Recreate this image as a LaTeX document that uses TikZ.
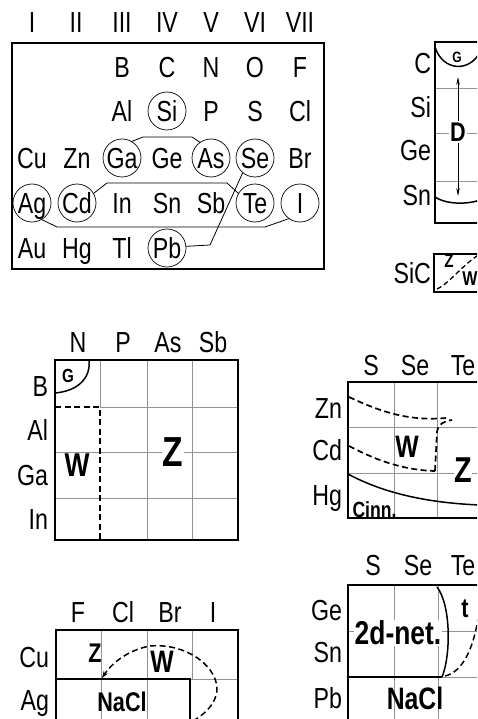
\documentclass[tikz,border=0pt]{standalone}
\usepackage{fontspec}
\setmainfont[FakeStretch=0.8]{Liberation Sans}
\usetikzlibrary{arrows.meta}
\newcommand\myfs[1]{\fontsize{#1}{#1}\selectfont}
\begin{document}
\begin{tikzpicture}[x=1pt,y=-1pt,
  el/.style={font=\myfs{29}, inner sep=0pt, outer sep=0pt, text height=21pt, text depth=0pt},
  cel/.style={el, draw, circle, minimum size=38pt, line width=0.7pt},
  lab/.style={font=\bfseries\myfs{#1}, inner sep=0.5pt, outer sep=0pt},
  boxline/.style={line width=1.6pt},
  gline/.style={gray!85, line width=0.55pt},
  thickdash/.style={line width=1.7pt, dash pattern=on 6pt off 3.5pt},
  conn/.style={line width=0.8pt},
  bound/.style={line width=1.5pt},
  arr/.style={-{Stealth[length=8pt,width=3.5pt]}},
]
\useasboundingbox (0,0) rectangle (477,719);
\clip (0,0) rectangle (477,719);

% ---------------- periodic table ----------------
\foreach \t/\x in {I/32,II/76,III/122,IV/167,V/211,VI/255,VII/300}
  \node[el] (h\t) at (\x,22) {\t};
\draw[boxline] (12,43) rectangle (324,269);
% row 1
\node[el] (B) at (122,67) {B};
\node[el] (C) at (167,67) {C};
\node[el] (N) at (211,67) {N};
\node[el] (O) at (255,67) {O};
\node[el] (F) at (300,67) {F};
% row 2
\node[el] (Al) at (122,111) {Al};
\node[cel] (Si) at (167,111) {Si};
\node[el] (P) at (211,111) {P};
\node[el] (S) at (255,111) {S};
\node[el] (Cl) at (300,111) {Cl};
% row 3
\node[el] (Cu) at (32,158) {Cu};
\node[el] (Zn) at (77,158) {Zn};
\node[cel] (Ga) at (122,158) {Ga};
\node[el] (Ge) at (167,158) {Ge};
\node[cel] (As) at (211,158) {As};
\node[cel] (Se) at (255,158) {Se};
\node[el] (Br) at (300,158) {Br};
% row 4
\node[cel] (Ag) at (32,203) {Ag};
\node[cel] (Cd) at (77,203) {Cd};
\node[el] (In) at (122,203) {In};
\node[el] (Sn) at (167,203) {Sn};
\node[el] (Sb) at (211,203) {Sb};
\node[cel] (Te) at (255,203) {Te};
\node[cel] (I) at (300,203) {I};
% row 5
\node[el] (Au) at (32,248) {Au};
\node[el] (Hg) at (77,248) {Hg};
\node[el] (Tl) at (122,248) {Tl};
\node[cel] (Pb) at (167,248) {Pb};
% connectors
\draw[conn] (Ga.60) -- (143,137) -- (192,137) -- (As.125);
\draw[conn] (Cd.30) -- (107,183) -- (227,183) -- (Te.150);
\draw[conn] (Ag.-60) -- (57,227) -- (265,227) -- (I.235);
\draw[conn] (Se.230) -- (210,245) -- (Pb.5);

% ---------------- C Si Ge Sn ----------------
\draw[gline] (435,88) -- (490,88);
\draw[gline] (435,133) -- (490,133);
\draw[gline] (435,181) -- (490,181);
\draw[boxline] (490,42) -- (435,42) -- (435,223) -- (490,223);
\node[el,anchor=east] (rC) at (431,63) {C};
\node[el,anchor=east] (rSi) at (431,107) {Si};
\node[el,anchor=east] (rGe) at (431,150) {Ge};
\node[el,anchor=east] (rSn) at (431,195) {Sn};
\draw[bound] (435,47) .. controls (443,72) and (470,72) .. (480,52);
\node[lab=15] (gG) at (457,57) {G};
\node[lab=27, fill=white, inner sep=1.5pt] (dD) at (458,132) {D};
\coordinate (dtop) at (458,77);
\coordinate (dbot) at (458,196);
\draw[conn,arr] (dD) -- (dtop);
\draw[conn,arr] (dD) -- (dbot);
\draw[bound] (435,197) .. controls (445,204) and (466,205) .. (480,200);
% SiC
\draw[line width=1.1pt] (490,254) -- (434,254) -- (434,292) -- (490,292);
\node[el,anchor=east] (SiC) at (431,273) {SiC};
\node[lab=19] (sZ) at (449,261) {Z};
\node[lab=20] (sW) at (470,279) {W};
\draw[line width=1.3pt, dash pattern=on 5pt off 3pt] (437,289) .. controls (450,283) and (462,265) .. (480,254);

% ---------------- N P As Sb / B Al Ga In ----------------
\node[el] (mN) at (78,342) {N};
\node[el] (mP) at (123,342) {P};
\node[el] (mAs) at (168,342) {As};
\node[el] (mSb) at (213,342) {Sb};
\node[el,anchor=east] (mB) at (48,386) {B};
\node[el,anchor=east] (mAl) at (48,430) {Al};
\node[el,anchor=east] (mGa) at (48,475) {Ga};
\node[el,anchor=east] (mIn) at (48,519) {In};
\draw[gline] (100,360) -- (100,407);
\draw[gline] (147,360) -- (147,540);
\draw[gline] (192,360) -- (192,540);
\draw[gline] (100,407) -- (238,407);
\draw[gline] (55,452) -- (238,452);
\draw[gline] (55,498) -- (238,498);
\draw[boxline] (55,360) rectangle (238,540);
\draw[thickdash] (55,407) -- (100,407) -- (100,540);
\draw[bound] (55,393) .. controls (78,391) and (91,378) .. (89,360);
\node[lab=19] (mG) at (68,376) {G};
\node[lab=33] (mW) at (77,465) {W};
\node[lab=42, fill=white] (mZ) at (173,452) {Z};

% ---------------- F Cl Br I / Cu Ag ----------------
\node[el] (hF) at (78,612) {F};
\node[el] (hCl) at (123,612) {Cl};
\node[el] (hBr) at (170,612) {Br};
\node[el] (hI) at (213,612) {I};
\node[el,anchor=east] (lCu) at (49,657) {Cu};
\node[el,anchor=east] (lAg) at (49,700) {Ag};
\draw[gline] (101,630) -- (101,725);
\draw[gline] (147,630) -- (147,725);
\draw[gline] (192,630) -- (192,679);
\draw[gline] (190,679) -- (238,679);
\draw[boxline] (56,725) -- (56,630) -- (238,630) -- (238,725);
\draw[boxline] (56,679) -- (190,679) -- (190,725);
\node[lab=27] (lZ) at (95,653) {Z};
\node[lab=31] (lW) at (162,662) {W};
\node[lab=27] (lN) at (122,702) {NaCl};
\draw[line width=1.5pt, dash pattern=on 6pt off 3.5pt, -{Stealth[length=7pt,width=5pt]}]
  (193,721) .. controls (212,710) and (220,695) .. (216,682)
  .. controls (210,660) and (180,643) .. (150,646)
  .. controls (128,650) and (112,663) .. (102,678);

% ---------------- S Se Te / Zn Cd Hg ----------------
\node[el] (aS) at (371,365) {S};
\node[el] (aSe) at (415,365) {Se};
\node[el] (aTe) at (463,365) {Te};
\node[el,anchor=east] (aZn) at (342,408) {Zn};
\node[el,anchor=east] (aCd) at (342,450) {Cd};
\node[el,anchor=east] (aHg) at (342,495) {Hg};
\draw[gline] (394,382) -- (394,518);
\draw[gline] (437,382) -- (437,518);
\draw[gline] (348,427) -- (490,427);
\draw[gline] (348,473) -- (490,473);
\draw[boxline] (490,382) -- (348,382) -- (348,518) -- (490,518);
\draw[thickdash] (349,397) .. controls (385,414) and (412,421) .. (446,418);
\draw[thickdash] (435,471) -- (437,432) .. controls (438,424) and (444,421) .. (452,420);
\draw[thickdash] (349,446) .. controls (372,458) and (400,470) .. (435,471);
\draw[bound] (348,474) .. controls (385,494) and (430,503) .. (480,505);
\node[lab=31] (aW) at (407,447) {W};
\node[lab=36, fill=white] (aZ) at (463,470) {Z};
\node[lab=22, anchor=west] (aCinn) at (352,510) {Cinn.};

% ---------------- S Se Te / Ge Sn Pb ----------------
\node[el] (bS) at (373,565) {S};
\node[el] (bSe) at (418,565) {Se};
\node[el] (bTe) at (463,565) {Te};
\node[el,anchor=east] (bGe) at (342,610) {Ge};
\node[el,anchor=east] (bSn) at (342,652) {Sn};
\node[el,anchor=east] (bPb) at (342,698) {Pb};
\draw[gline] (394,585) -- (394,725);
\draw[gline] (438,585) -- (438,725);
\draw[gline] (348,631) -- (490,631);
\draw[gline] (442,677) -- (490,677);
\draw[boxline] (490,585) -- (348,585) -- (348,725);
\draw[boxline] (348,677) -- (442,677);
\draw[bound] (437,587) .. controls (451,605) and (451,655) .. (442,677);
\node[lab=33, fill=white] (bnet) at (398,633) {2d-net.};
\node[lab=27] (bt) at (465,609) {t};
\node[lab=31] (bN) at (415,698) {NaCl};
\draw[line width=1.5pt, dash pattern=on 6pt off 3.5pt] (445,676) .. controls (462,672) and (474,650) .. (479,612);
\end{tikzpicture}
\end{document}
